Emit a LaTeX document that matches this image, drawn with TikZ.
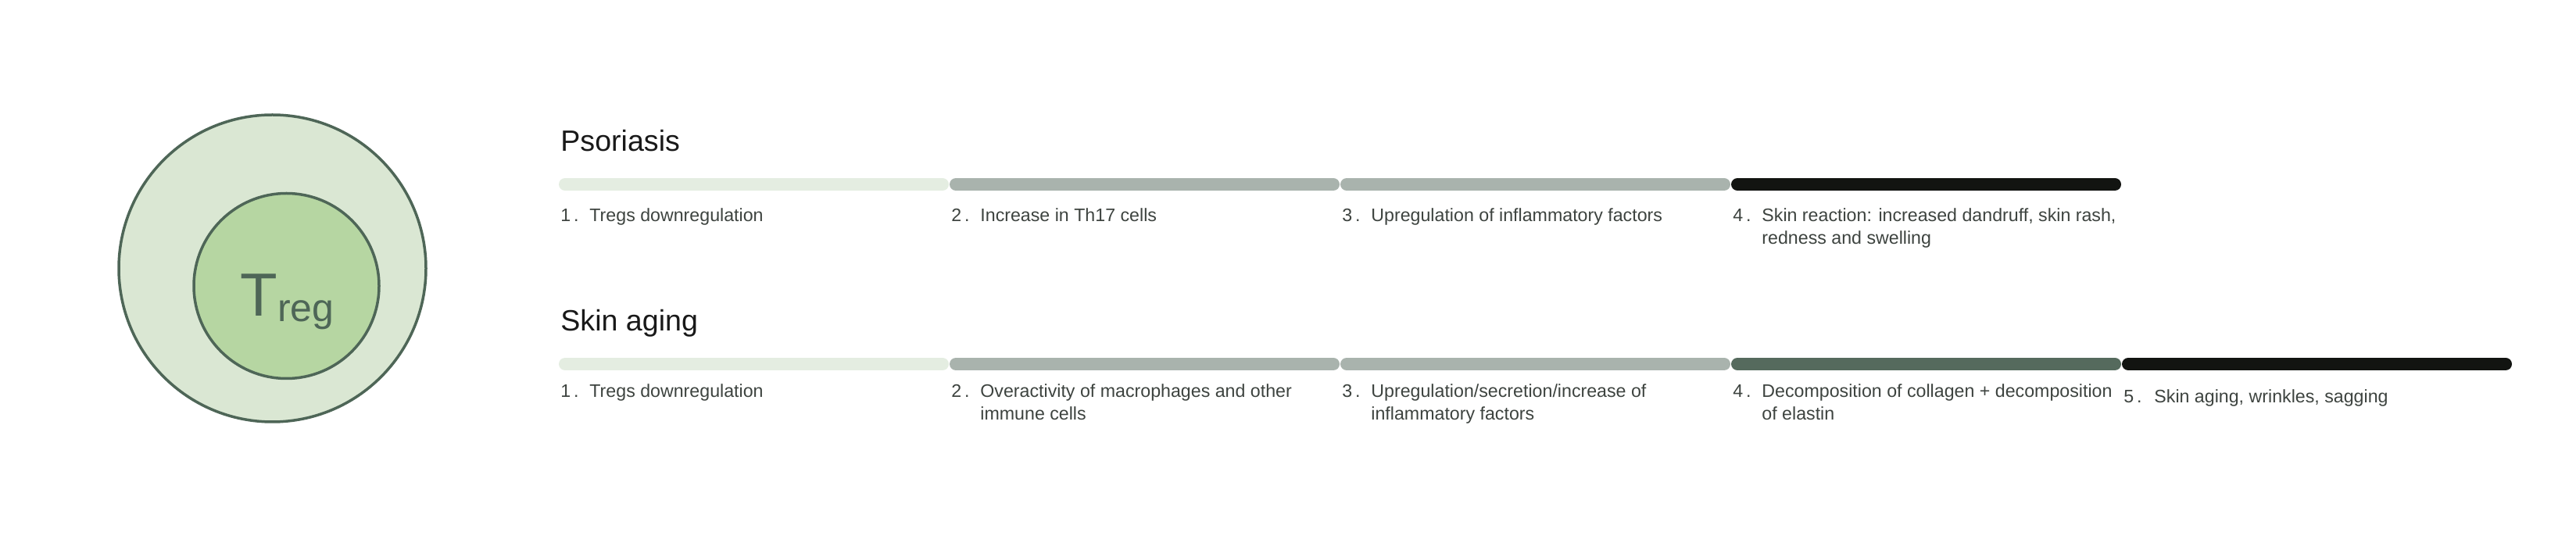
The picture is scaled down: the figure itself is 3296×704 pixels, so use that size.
\documentclass[tikz,border=0pt]{standalone}
\usepackage{fontspec}
\setmainfont{Liberation Sans}
\definecolor{cellouter}{HTML}{DAE7D3}
\definecolor{cellinner}{HTML}{B6D6A2}
\definecolor{cellline}{HTML}{4E6657}
\definecolor{stagepale}{HTML}{E4EDE1}
\definecolor{stagesage}{HTML}{A9B3AD}
\definecolor{stagemoss}{HTML}{556A5D}
\definecolor{stageink}{HTML}{121411}
\definecolor{labelgray}{HTML}{3D433F}
\begin{document}
\begin{tikzpicture}[x=0.5pt,y=-0.5pt,
  cell/.style={circle, draw=cellline, line width=1.75pt, inner sep=0pt},
  bar/.style={line width=8pt, line cap=round},
  heading/.style={anchor=base west, inner sep=0pt, text=black!90, font=\fontsize{18.8}{22}\selectfont},
  num/.style={anchor=base west, inner sep=0pt, text=labelgray, font=\fontsize{11.6}{14.25}\selectfont},
  lbl/.style={anchor=base west, inner sep=0pt, align=left, text=labelgray, font=\fontsize{11.6}{14.25}\selectfont}]
  \useasboundingbox (0,0) rectangle (3296,704);
  % the cell
  \node[cell, fill=cellouter, minimum size=196.5pt] (outer) at (348.5,343.5) {};
  \node[cell, fill=cellinner, minimum size=118.5pt] (inner) at (366.5,366) {};
  \node[anchor=base, inner sep=0pt, text=cellline] (treg) at (367.5,405)
    {{\fontsize{39}{39}\selectfont T}{\fontsize{25}{25}\selectfont\raisebox{-3.5pt}{reg}}};
  % Psoriasis
  \node[heading] (psor) at (717,194) {Psoriasis};
  \draw[bar, stagepale] (723,236) -- (1206,236);
  \draw[bar, stagesage] (1223,236) -- (1706,236);
  \draw[bar, stagesage] (1723,236) -- (2206,236);
  \draw[bar, stageink]  (2223,236) -- (2706,236);
  \node[num] (p1n) at (717,284) {1\,.};
  \node[lbl] (p1) at (754,284) {Tregs downregulation};
  \node[num] (p2n) at (1217,284) {2\,.};
  \node[lbl] (p2) at (1254,284) {Increase in Th17 cells};
  \node[num] (p3n) at (1717,284) {3\,.};
  \node[lbl] (p3) at (1754,284) {Upregulation of inflammatory factors};
  \node[num] (p4n) at (2217,284) {4\,.};
  % two-line labels sit on their last line
  \node[lbl] (p4) at (2254,312.5) {Skin reaction: increased dandruff, skin rash,\\redness and swelling};
  % Skin aging
  \node[heading] (aging) at (717,424) {Skin aging};
  \draw[bar, stagepale] (723,466) -- (1206,466);
  \draw[bar, stagesage] (1223,466) -- (1706,466);
  \draw[bar, stagesage] (1723,466) -- (2206,466);
  \draw[bar, stagemoss] (2223,466) -- (2706,466);
  \draw[bar, stageink]  (2723,466) -- (3206,466);
  \node[num] (a1n) at (717,509) {1\,.};
  \node[lbl] (a1) at (754,509) {Tregs downregulation};
  \node[num] (a2n) at (1217,509) {2\,.};
  \node[lbl] (a2) at (1254,537.5) {Overactivity of macrophages and other\\immune cells};
  \node[num] (a3n) at (1717,509) {3\,.};
  \node[lbl] (a3) at (1754,537.5) {Upregulation/secretion/increase of\\inflammatory factors};
  \node[num] (a4n) at (2217,509) {4\,.};
  \node[lbl] (a4) at (2254,537.5) {Decomposition of collagen + decomposition\\of elastin};
  \node[num] (a5n) at (2717,516) {5\,.};
  \node[lbl] (a5) at (2756,516) {Skin aging, wrinkles, sagging};
\end{tikzpicture}
\end{document}
